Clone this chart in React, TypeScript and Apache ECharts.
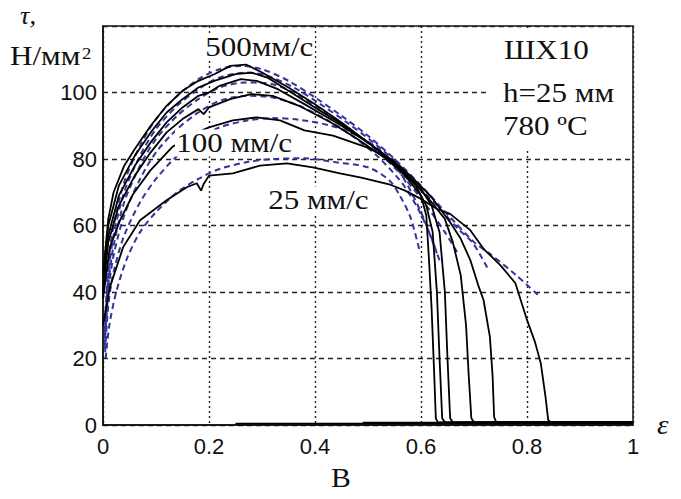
import React, { useEffect, useRef } from "react";
import * as echarts from "echarts";

// Experimental shear-stress curves τ(ε), Н/мм², one per deformation speed (top to bottom)
const exp500: number[][] = [
  [0, 45], [0.01, 62], [0.02, 70], [0.04, 78], [0.06, 83], [0.09, 90], [0.12, 96], [0.15, 100.5],
  [0.18, 103.5], [0.21, 105.5], [0.24, 108], [0.27, 108.4], [0.3, 106], [0.35, 101.5], [0.4, 96.5],
  [0.45, 91], [0.5, 85], [0.55, 78.5], [0.58, 73], [0.6, 69], [0.61, 63], [0.615, 50], [0.62, 35],
  [0.625, 15], [0.628, 2], [0.632, 0.8], [1, 0.8],
];
const exp300: number[][] = [
  [0, 45], [0.01, 60], [0.03, 72], [0.06, 81], [0.09, 88], [0.12, 94], [0.15, 98], [0.18, 101.5],
  [0.21, 103.5], [0.25, 105.5], [0.28, 106], [0.31, 104.5], [0.35, 100.5], [0.4, 95.5], [0.45, 90.5],
  [0.5, 85], [0.55, 79], [0.59, 72], [0.61, 66], [0.622, 58], [0.63, 40], [0.635, 20], [0.64, 2],
  [0.645, 0.8], [1, 0.8],
];
const exp200: number[][] = [
  [0, 42], [0.01, 57], [0.03, 69], [0.06, 78], [0.09, 85], [0.12, 91], [0.15, 95.5], [0.18, 99],
  [0.2, 100], [0.22, 102], [0.26, 104], [0.29, 103.5], [0.33, 101], [0.38, 96.5], [0.44, 91],
  [0.5, 85], [0.55, 79], [0.6, 71], [0.62, 66], [0.635, 58], [0.645, 40], [0.65, 20], [0.655, 2],
  [0.66, 0.8], [1, 0.8],
];
const exp150: number[][] = [
  [0, 40], [0.01, 55], [0.03, 66], [0.06, 75], [0.09, 82], [0.12, 88], [0.15, 92], [0.18, 95],
  [0.19, 93.5], [0.2, 95.5], [0.24, 98], [0.28, 99.5], [0.32, 99], [0.37, 96], [0.43, 91], [0.48, 86],
  [0.53, 80.5], [0.58, 74], [0.62, 67], [0.645, 62], [0.66, 55], [0.675, 45], [0.685, 30],
  [0.69, 15], [0.695, 2], [0.7, 0.8], [1, 0.8],
];
const exp100: number[][] = [
  [0, 38], [0.013, 53.5], [0.032, 61.5], [0.057, 69.5], [0.089, 76.5], [0.13, 83.5], [0.17, 87.5],
  [0.2, 89.5], [0.245, 91.6], [0.29, 92.5], [0.334, 91.6], [0.38, 88.6], [0.434, 87], [0.498, 83.5],
  [0.547, 79.6], [0.58, 75], [0.62, 68.5], [0.655, 61], [0.675, 56], [0.693, 49.6], [0.708, 42],
  [0.718, 37.6], [0.73, 26.5], [0.735, 15], [0.738, 2.4], [0.742, 0.8], [1, 0.8],
];
const exp25: number[][] = [
  [0, 30], [0.013, 41.4], [0.038, 53.5], [0.07, 61.6], [0.12, 67.6], [0.158, 71.5], [0.177, 72.7],
  [0.185, 70.5], [0.19, 72.5], [0.2, 75], [0.245, 75.7], [0.296, 78], [0.347, 78.7], [0.396, 77.5],
  [0.447, 75.7], [0.485, 74.5], [0.54, 72.4], [0.57, 70.5], [0.6, 68], [0.63, 65], [0.655, 63.5],
  [0.693, 58.6], [0.718, 53], [0.75, 48], [0.778, 42.7], [0.8, 31.6], [0.815, 25], [0.826, 18.6],
  [0.835, 8.4], [0.84, 1.5], [0.845, 0.8], [1, 0.8],
];
// Residual signal recorded after fracture
const residualA: number[][] = [[0.25, 0.4], [1, 0.4]];
const residualB: number[][] = [[0.49, 0.7], [1, 0.7]];

// Model (approximating) curves, dashed
const fit500: number[][] = [
  [0.003, 28], [0.01, 48], [0.02, 60], [0.04, 73], [0.07, 84], [0.1, 92], [0.14, 99], [0.18, 104],
  [0.22, 107], [0.26, 108], [0.3, 107], [0.35, 103.5], [0.4, 98.5], [0.45, 93], [0.5, 87], [0.55, 80],
  [0.6, 72], [0.655, 62.5], [0.7, 55], [0.73, 51.5], [0.78, 45], [0.825, 38.5],
];
const fit300: number[][] = [
  [0.003, 26], [0.01, 45], [0.02, 57], [0.04, 70], [0.07, 81], [0.1, 89], [0.14, 96], [0.18, 101],
  [0.22, 104.5], [0.27, 106], [0.31, 105], [0.36, 101.5], [0.41, 96.5], [0.46, 91], [0.51, 85],
  [0.56, 78], [0.6, 71], [0.636, 65], [0.67, 59], [0.698, 54.7], [0.726, 47],
];
const fit200: number[][] = [
  [0.003, 24], [0.01, 42], [0.02, 54], [0.04, 67], [0.07, 78], [0.1, 86], [0.14, 93], [0.18, 98],
  [0.22, 101.5], [0.27, 103], [0.32, 102.5], [0.37, 99], [0.42, 94], [0.47, 88.5], [0.52, 82],
  [0.57, 74], [0.61, 66], [0.645, 58], [0.67, 51.5],
];
const fit150: number[][] = [
  [0.003, 23], [0.01, 40], [0.02, 51], [0.04, 63], [0.07, 74], [0.1, 82], [0.14, 89], [0.18, 94],
  [0.22, 97.5], [0.27, 99], [0.32, 98.5], [0.37, 96], [0.42, 92], [0.47, 87], [0.52, 80.5],
  [0.57, 71.5], [0.61, 60], [0.636, 49],
];
const fit100: number[][] = [
  [0.004, 22], [0.01, 36], [0.02, 46], [0.04, 57], [0.07, 67], [0.1, 74], [0.14, 81], [0.18, 86],
  [0.22, 89.5], [0.27, 91.5], [0.32, 92.3], [0.37, 91.8], [0.43, 90], [0.48, 87], [0.52, 83],
  [0.56, 76], [0.6, 64], [0.63, 51.6],
];
const fit25: number[][] = [
  [0.005, 20], [0.012, 30], [0.025, 40], [0.045, 50], [0.07, 58], [0.1, 64], [0.14, 70], [0.18, 74],
  [0.22, 77], [0.27, 79], [0.32, 80], [0.38, 80.2], [0.44, 79], [0.5, 77.5], [0.54, 73.6], [0.56, 69],
  [0.58, 62.5], [0.598, 52],
];

const experimental = [exp500, exp300, exp200, exp150, exp100, exp25];
const models = [fit500, fit300, fit200, fit150, fit100, fit25];

const speedLabels = ["500мм/с", "100 мм/с", "25 мм/с"];
const infoLines = ["ШХ10", "h=25 мм", "780 ºC"];

const SERIF = '"Liberation Serif", "Times New Roman", serif';
const SANS = '"Liberation Sans", Arial, sans-serif';

export default function App() {
  const ref = useRef<HTMLDivElement>(null);

  useEffect(() => {
    document.body.style.margin = "0";
    if (!ref.current) return;
    const chart = echarts.init(ref.current, undefined, { renderer: "svg" });

    // Serif caption; stretched a little horizontally like the typeset originals
    const serifText = (text: string, x: number, y: number, size: number, extra: any = {}, sx = 1.15) => ({
      type: "text",
      x,
      y,
      scaleX: sx,
      z: 20,
      style: {
        text,
        fontFamily: SERIF,
        fontSize: size,
        fill: "#111",
        textAlign: "left",
        textVerticalAlign: "middle",
        ...extra,
      },
    });
    const boxed = { backgroundColor: "#fff", padding: [0, 1] };

    const series: any[] = [];
    models.forEach((d) =>
      series.push({
        type: "line",
        data: d,
        symbol: "none",
        smooth: 0.3,
        z: 2,
        lineStyle: { color: "#34349c", width: 2, type: [6, 4] },
      })
    );
    experimental.forEach((d) =>
      series.push({
        type: "line",
        data: d,
        symbol: "none",
        z: 3,
        lineStyle: { color: "#000", width: 1.8 },
      })
    );
    [residualA, residualB].forEach((d) =>
      series.push({
        type: "line",
        data: d,
        symbol: "none",
        z: 3,
        lineStyle: { color: "#000", width: 1.6 },
      })
    );

    chart.setOption({
      animation: false,
      backgroundColor: "#fff",
      grid: {
        left: 103,
        right: 48,
        top: 26,
        bottom: 74,
        show: true,
        borderColor: "#111",
        borderWidth: 1.5,
      },
      xAxis: {
        type: "value",
        min: 0,
        max: 1,
        interval: 0.2,
        axisLine: { show: true, lineStyle: { color: "#111", width: 1.5 } },
        axisTick: { show: false },
        axisLabel: { color: "#111", fontFamily: SANS, fontSize: 22, margin: 10 },
        splitLine: { show: true, lineStyle: { color: "#222", width: 1.4, type: [2, 3] } },
      },
      yAxis: {
        type: "value",
        min: 0,
        max: 120,
        interval: 20,
        axisLine: { show: true, lineStyle: { color: "#111", width: 1.5 } },
        axisTick: { show: false },
        axisLabel: {
          color: "#111",
          fontFamily: SANS,
          fontSize: 22,
          margin: 6,
          formatter: (v: number) => (v === 120 ? "" : String(v)),
        },
        splitLine: { show: true, lineStyle: { color: "#222", width: 1.4, type: [5, 4] } },
      },
      graphic: [
        // blank panel behind the specimen description
        {
          type: "rect",
          z: 15,
          shape: { x: 490, y: 28, width: 141, height: 120 },
          style: { fill: "#fff" },
        },
        serifText("τ,", 20, 16, 25, { fontStyle: "italic" }, 1.05),
        serifText("Н/мм", 10, 56, 27),
        serifText("2", 82, 53, 17, {}, 1.1),
        serifText(speedLabels[0], 204, 47, 27, boxed),
        serifText(speedLabels[1], 175, 143, 27, boxed),
        serifText(speedLabels[2], 267, 200, 27, boxed),
        serifText(infoLines[0], 504, 50, 27),
        serifText(infoLines[1], 503, 93, 27),
        serifText(infoLines[2], 503, 126, 27),
        serifText("ε", 657, 424, 28, { fontStyle: "italic" }, 1.05),
        serifText("В", 341, 478, 27, { textAlign: "center" }, 1.1),
      ],
      series,
    });

    return () => chart.dispose();
  }, []);

  return <div ref={ref} style={{ width: 681, height: 499 }} />;
}
